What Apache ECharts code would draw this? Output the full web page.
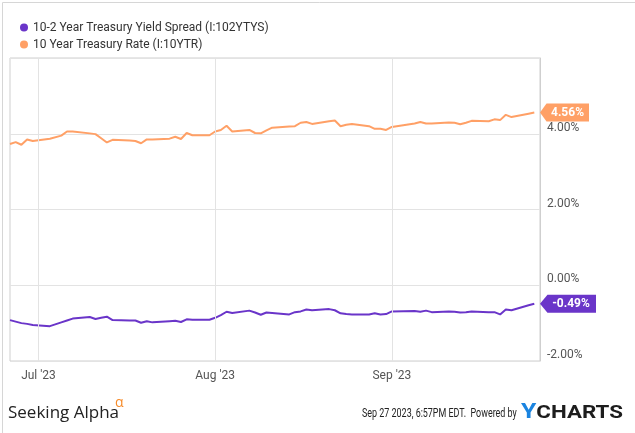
<!DOCTYPE html>
<html>
<head>
<meta charset="utf-8">
<script src="https://cdn.jsdelivr.net/npm/echarts@6/dist/echarts.min.js"></script>
<style>
html,body{margin:0;padding:0;background:#fff;}
#c{width:635px;height:433px;}
</style>
</head>
<body>
<div id="c"></div>
<script>
// ---- data ----
const dates = [
 '2023-06-26','2023-06-27','2023-06-28','2023-06-29','2023-06-30',
 '2023-07-03','2023-07-05','2023-07-06','2023-07-07',
 '2023-07-10','2023-07-11','2023-07-12','2023-07-13','2023-07-14',
 '2023-07-17','2023-07-18','2023-07-19','2023-07-20','2023-07-21',
 '2023-07-24','2023-07-25','2023-07-26','2023-07-27','2023-07-28',
 '2023-07-31','2023-08-01','2023-08-02','2023-08-03','2023-08-04',
 '2023-08-07','2023-08-08','2023-08-09','2023-08-10','2023-08-11',
 '2023-08-14','2023-08-15','2023-08-16','2023-08-17','2023-08-18',
 '2023-08-21','2023-08-22','2023-08-23','2023-08-24','2023-08-25',
 '2023-08-28','2023-08-29','2023-08-30','2023-08-31','2023-09-01',
 '2023-09-05','2023-09-06','2023-09-07','2023-09-08',
 '2023-09-11','2023-09-12','2023-09-13','2023-09-14','2023-09-15',
 '2023-09-18','2023-09-19','2023-09-20','2023-09-21','2023-09-22',
 '2023-09-25','2023-09-26'
];
const rate = [
 3.73,3.78,3.71,3.85,3.81,
 3.87,3.95,4.06,4.06,
 4.01,3.99,3.88,3.77,3.84,
 3.82,3.81,3.75,3.85,3.85,
 3.87,3.92,3.86,4.02,3.96,
 3.96,4.06,4.10,4.21,4.06,
 4.10,4.02,4.01,4.09,4.16,
 4.19,4.20,4.29,4.31,4.26,
 4.33,4.35,4.20,4.24,4.26,
 4.20,4.13,4.13,4.10,4.18,
 4.27,4.31,4.27,4.27,
 4.30,4.29,4.25,4.29,4.34,
 4.33,4.38,4.36,4.50,4.44,
 4.53,4.56
];
const spread = [
 -0.92,-0.96,-1.00,-1.02,-1.05,
 -1.08,-0.98,-0.93,-0.88,
 -0.84,-0.89,-0.86,-0.83,-0.92,
 -0.93,-0.93,-0.99,-0.95,-0.98,
 -0.95,-0.94,-0.97,-0.90,-0.91,
 -0.91,-0.86,-0.79,-0.70,-0.73,
 -0.67,-0.72,-0.78,-0.72,-0.73,
 -0.77,-0.71,-0.69,-0.64,-0.66,
 -0.63,-0.66,-0.74,-0.76,-0.77,
 -0.77,-0.74,-0.77,-0.76,-0.69,
 -0.68,-0.70,-0.67,-0.71,
 -0.69,-0.70,-0.72,-0.71,-0.69,
 -0.71,-0.71,-0.77,-0.64,-0.66,
 -0.53,-0.49
];
const xStart = '2023-06-26';
const xEnd = '2023-09-27';
const monthTicks = ['2023-07-01','2023-08-01','2023-09-01'];
const yTicks = [-2, 0, 2, 4, 6];
const seriesNames = ['10-2 Year Treasury Yield Spread (I:102YTYS)', '10 Year Treasury Rate (I:10YTR)'];

// ---- build ----
const ts = s => Date.UTC(+s.slice(0,4), +s.slice(5,7)-1, +s.slice(8,10));
const MON = ['Jan','Feb','Mar','Apr','May','Jun','Jul','Aug','Sep','Oct','Nov','Dec'];
const xMin = ts(xStart), xMax = ts(xEnd);
const ratePts = dates.map((d,i)=>[ts(d), rate[i]]);
const spreadPts = dates.map((d,i)=>[ts(d), spread[i]]);
const PURPLE = '#6a35c9', ORANGE = '#ffa066';
const FONT = 'Roboto, sans-serif';
const arrowPath = 'path://M0,9 L8,0 L60,0 L60,18 L8,18 Z';

function endMark(color, last, w) {
  return {
    symbol: arrowPath,
    symbolSize: [w, 18],
    symbolKeepAspect: false,
    symbolOffset: [w/2, 0],
    silent: true,
    animation: false,
    itemStyle: { color: color },
    label: {
      show: true, position: 'inside', offset: [3, 0],
      color: '#fff', fontFamily: FONT, fontWeight: 'bold', fontSize: 12,
      formatter: () => last.toFixed(2) + '%'
    },
    data: [{ coord: [xMax, last], value: last }]
  };
}

const chart = echarts.init(document.getElementById('c'), null, {renderer: 'canvas'});
chart.setOption({
  animation: false,
  backgroundColor: '#fff',
  textStyle: { fontFamily: FONT },
  legend: {
    orient: 'vertical', left: 15, top: 16, itemGap: 4,
    icon: 'circle', itemWidth: 8, itemHeight: 8,
    textStyle: { fontSize: 12, color: '#333', fontFamily: FONT, lineHeight: 13 },
    data: seriesNames
  },
  grid: {
    left: 10, right: 95, top: 58, bottom: 72,
    show: true, borderColor: '#cfcfcf', borderWidth: 1, backgroundColor: 'transparent'
  },
  xAxis: {
    type: 'value', min: xMin, max: xMax,
    splitLine: { show: false },
    axisLine: { show: false },
    axisTick: { show: false },
    axisLabel: {
      customValues: monthTicks.map(ts),
      color: '#555', fontSize: 12, fontFamily: FONT, margin: 9,
      formatter: v => { const d = new Date(v); return MON[d.getUTCMonth()] + " '" + String(d.getUTCFullYear()).slice(2); }
    }
  },
  yAxis: {
    type: 'value', position: 'right', min: yTicks[0], max: yTicks[yTicks.length-1], interval: 2,
    axisLine: { show: true, lineStyle: { color: '#cfcfcf' } },
    axisTick: { show: false },
    splitLine: { show: true, lineStyle: { color: '#e3e3e3', width: 1 } },
    axisLabel: {
      color: '#555', fontSize: 12, fontFamily: FONT, margin: 7,
      verticalAlign: 'bottom',
      formatter: v => v === yTicks[yTicks.length-1] ? '' : v.toFixed(2) + '%'
    }
  },
  series: [
    {
      name: 'grid-v', type: 'line', data: [], z: 1, silent: true,
      markLine: {
        silent: true, symbol: 'none', animation: false,
        label: { show: false },
        lineStyle: { color: '#e3e3e3', width: 1, type: 'solid' },
        data: monthTicks.map(m => ({ xAxis: ts(m) }))
      }
    },
    {
      name: seriesNames[0], type: 'line', data: spreadPts, z: 3,
      showSymbol: false, symbol: 'circle', color: PURPLE,
      lineStyle: { color: PURPLE, width: 2 },
      markPoint: endMark(PURPLE, spread[spread.length-1], 56)
    },
    {
      name: seriesNames[1], type: 'line', data: ratePts, z: 3,
      showSymbol: false, symbol: 'circle', color: ORANGE,
      lineStyle: { color: ORANGE, width: 2 },
      markPoint: endMark(ORANGE, rate[rate.length-1], 49)
    }
  ],
  graphic: [
    { type: 'rect', left: 0, top: 0, shape: { width: 634, height: 432 }, style: { fill: 'none', stroke: '#d6d6d6', lineWidth: 1 }, silent: true, z: 100 },
    { type: 'text', left: 8, top: 405, style: { text: 'Seeking Alpha', font: '17px "Open Sans", Lato, sans-serif', fill: '#222' } },
    { type: 'text', left: 115, top: 396, style: { text: 'α', font: '14px "Open Sans", sans-serif', fill: '#f68b2a' } },
    { type: 'text', x: 362, y: 408, scaleX: 0.745, style: { text: 'Sep 27 2023, 6:57PM EDT.  Powered by', font: '12px Roboto, sans-serif', fill: '#222' } },
    { type: 'text', x: 521, y: 403, scaleX: 1.24, style: { rich: { y: { fill: '#1a84e0', font: 'bold 20px Roboto' }, c: { fill: '#1d1d1d', font: 'bold 18px Roboto' } }, text: '{y|Y}{c|CHARTS}' } }
  ]
});
</script>
</body>
</html>
